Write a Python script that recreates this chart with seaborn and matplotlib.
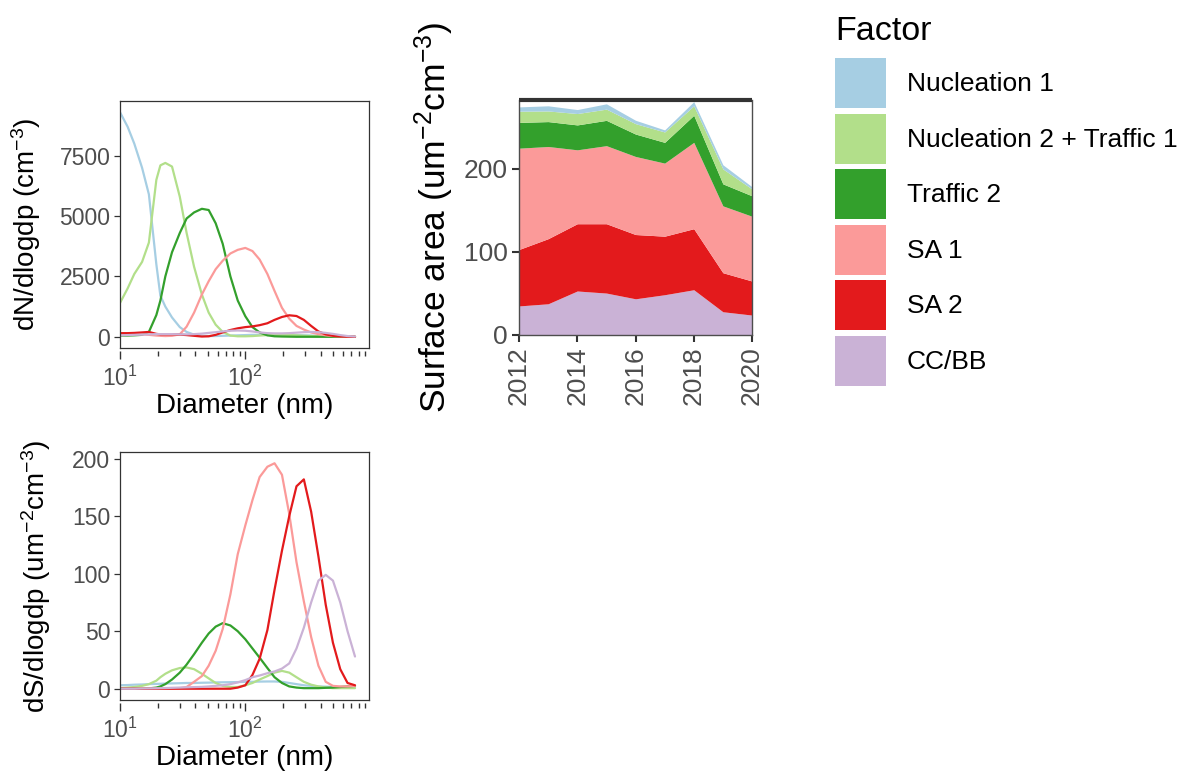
import numpy as np
import pandas as pd
import matplotlib
matplotlib.use("Agg")
import matplotlib.pyplot as plt
import seaborn as sns
from matplotlib.patches import Patch

# ---------------- estilo ----------------
sns.set_theme(style="white")
plt.rcParams['font.family'] = ['Liberation Sans', 'DejaVu Sans']
plt.rcParams['mathtext.fontset'] = 'custom'
plt.rcParams['mathtext.rm'] = 'Liberation Sans'
plt.rcParams['mathtext.it'] = 'Liberation Sans:italic'
plt.rcParams['mathtext.bf'] = 'Liberation Sans:bold'
plt.rcParams['mathtext.default'] = 'regular'

DARK = '#333333'
GREY = '#4D4D4D'

# ---------------- dados ----------------
factors = ['Nucleation 1', 'Nucleation 2 + Traffic 1', 'Traffic 2', 'SA 1', 'SA 2', 'CC/BB']
colors = {
    'Nucleation 1': '#A6CEE3',
    'Nucleation 2 + Traffic 1': '#B2DF8A',
    'Traffic 2': '#33A02C',
    'SA 1': '#FB9A99',
    'SA 2': '#E31A1C',
    'CC/BB': '#CAB2D6',
}

diameter = [10, 11.5, 13, 15, 17, 19.5, 21, 23, 26, 30, 34, 39, 45, 51, 58, 66, 76, 87,
            100, 114, 130, 150, 171, 196, 224, 256, 293, 335, 383, 438, 500, 572, 654, 750]

# dN/dlogdp (cm-3)
dn_nuc1 = [9300, 8700, 8000, 7000, 5900, 3000, 1700, 1250, 800, 400, 200, 90, 40, 30, 30, 40, 50,
           60, 70, 80, 80, 80, 80, 80, 80, 70, 60, 50, 40, 30, 20, 10, 5, 0]
dn_nuc2 = [1400, 2000, 2600, 3100, 3900, 6500, 7100, 7200, 7050, 5800, 4300, 2900, 1750, 1000, 500,
           200, 50, 20, 20, 30, 50, 70, 80, 80, 70, 60, 40, 30, 20, 10, 5, 0, 0, 0]
dn_tr2 = [50, 50, 60, 80, 200, 900, 1500, 2500, 3500, 4300, 4900, 5150, 5300, 5250, 4700, 3850,
          2500, 1500, 850, 400, 180, 60, 20, 10, 5, 0, 0, 0, 0, 0, 0, 0, 0, 0]
dn_sa1 = [100, 110, 120, 100, 80, 50, 40, 30, 40, 100, 420, 1000, 1750, 2300, 2800, 3150, 3450,
          3600, 3680, 3550, 3200, 2600, 1900, 1200, 750, 450, 300, 180, 110, 60, 30, 15, 5, 0]
dn_sa2 = [150, 150, 160, 180, 200, 120, 100, 100, 100, 90, 70, 40, 10, 20, 80, 180, 280, 350, 400,
          430, 480, 560, 700, 820, 890, 860, 700, 450, 220, 100, 40, 15, 5, 0]
dn_cc = [60, 70, 80, 90, 100, 110, 110, 110, 110, 100, 100, 110, 130, 160, 190, 220, 250, 260, 250,
         220, 180, 150, 140, 140, 150, 170, 190, 200, 190, 160, 120, 70, 30, 10]

# dS/dlogdp (um2 cm-3)
ds_nuc1 = [3, 3.2, 3.5, 3.7, 4, 4.2, 4.3, 4.5, 4.6, 4.8, 5, 5, 5.2, 5.3, 5.5, 5.6, 5.7, 5.8, 6, 6,
           6.2, 6.3, 6.3, 6, 5, 4, 3, 2.5, 2, 1.8, 1.6, 1.5, 1.5, 1.5]
ds_nuc2 = [0.5, 1, 1.5, 2.5, 4, 7, 10, 13, 16, 18, 18.5, 17, 13, 9, 5, 2.5, 1.5, 1.5, 3, 5, 8, 11,
           14, 15.5, 14, 10, 6, 3.5, 2, 1, 0.5, 0.5, 0.5, 0.5]
ds_tr2 = [0, 0, 0, 0, 0.3, 1, 2, 4, 8, 14, 21, 30, 40, 48, 54, 57, 55, 50, 43, 35, 27, 18, 10, 5,
          2, 1, 0.5, 0.5, 0.5, 0.8, 1, 1.5, 2, 2.5]
ds_sa1 = [0, 0, 0, 0, 0, 0, 0, 0, 0.2, 0.5, 1.5, 6, 11, 20, 33, 52, 82, 117, 142, 164, 184, 193,
          196, 186, 152, 110, 76, 45, 20, 6, 2.5, 2, 2, 2.5]
ds_sa2 = [0, 0, 0, 0, 0, 0, 0, 0, 0, 0, 0, 0, 0, 0, 0, 0, 0, 1, 3, 12, 26, 51, 86, 120, 150, 176,
          182, 154, 115, 73, 40, 17, 5, 3]
ds_cc = [0, 0, 0, 0.2, 0.3, 0.4, 0.5, 0.6, 0.8, 1, 1.2, 1.4, 1.6, 2, 2.5, 3, 4, 5.5, 7.5, 10, 11.5,
         13.5, 15, 17.5, 22, 35, 53, 75, 94, 99, 94, 75, 50, 28]

# Surface area por ano (um2 cm-3)
years = [2012, 2013, 2014, 2015, 2016, 2017, 2018, 2019, 2020]
sa_cc = [35, 37.6, 53, 50.5, 43.6, 48.5, 54.5, 28, 24]
sa_sa2 = [68, 78.4, 81, 83.5, 77.4, 70.5, 73.5, 47, 41]
sa_sa1 = [122, 111, 89, 94, 94, 88, 104, 80.5, 78]
sa_tr2 = [31, 30, 30, 30.5, 27, 25, 32.6, 26.5, 24.6]
sa_nuc2 = [13.5, 12.8, 13.7, 13.5, 12.5, 12.5, 11.4, 18, 8.2]
sa_nuc1 = [5.2, 6.2, 4.8, 6.4, 4.1, 2.5, 5, 5, 2.7]


def long_df(series):
    rows = []
    for name, vals in zip(factors, series):
        for d, v in zip(diameter, vals):
            rows.append({'diameter': d, 'value': v, 'factor': name})
    return pd.DataFrame(rows)


df_dn = long_df([dn_nuc1, dn_nuc2, dn_tr2, dn_sa1, dn_sa2, dn_cc])
df_ds = long_df([ds_nuc1, ds_nuc2, ds_tr2, ds_sa1, ds_sa2, ds_cc])


# ---------------- funções ----------------
def size_panel(ax, df, ylabel, yticks, pad):
    sns.lineplot(data=df, x='diameter', y='value', hue='factor', hue_order=factors,
                 palette=colors, estimator=None, legend=False, linewidth=1.6, ax=ax)
    ax.set_xscale('log')
    ax.set_xlim(10, 970)
    ax.set_yticks(yticks)
    ax.set_ylabel(ylabel, fontsize=20, color='black', labelpad=pad)
    ax.set_xlabel('')
    for s in ax.spines.values():
        s.set_color(DARK)
        s.set_linewidth(0.9)
    ax.tick_params(axis='y', left=True, length=4, width=0.9, color=DARK,
                   labelsize=16.5, labelcolor=GREY, pad=3)
    ax.tick_params(axis='x', which='both', bottom=False, labelbottom=False)

    # log ticks soltos abaixo do painel
    sec = ax.secondary_xaxis(-0.014)
    sec.spines['bottom'].set_visible(False)
    sec.set_xticks([10, 100], labels=['$10^{1}$', '$10^{2}$'])
    sec.set_xticks([k * 10 ** e for e in (1, 2) for k in range(2, 10)], minor=True)
    sec.xaxis.set_minor_formatter(plt.NullFormatter())
    sec.tick_params(which='major', bottom=True, labelbottom=True, length=6, width=1,
                    color=DARK, labelsize=16.5, labelcolor=GREY, pad=4)
    sec.tick_params(which='minor', bottom=True, length=3.5, width=1, color=DARK)
    sec.set_xlabel('Diameter (nm)', fontsize=20, color='black', labelpad=2)


# ---------------- figura ----------------
fig = plt.figure(figsize=(11.94, 7.75), dpi=100)
W, H = 1194, 775


def px_axes(x0, y0, x1, y1):
    return fig.add_axes([x0 / W, 1 - y1 / H, (x1 - x0) / W, (y1 - y0) / H])


ax_dn = px_axes(120, 101, 369, 348)
ax_ds = px_axes(120, 452, 369, 700)
ax_sa = px_axes(519, 100, 752, 335)

size_panel(ax_dn, df_dn, 'dN/dlogdp (cm$^{-3}$)', [0, 2500, 5000, 7500], 12)
size_panel(ax_ds, df_ds, 'dS/dlogdp (um$^{-2}$cm$^{-3}$)', [0, 50, 100, 150, 200], 14)

# área empilhada
stack_order = ['CC/BB', 'SA 2', 'SA 1', 'Traffic 2', 'Nucleation 2 + Traffic 1', 'Nucleation 1']
ax_sa.stackplot(years, sa_cc, sa_sa2, sa_sa1, sa_tr2, sa_nuc2, sa_nuc1,
                colors=[colors[f] for f in stack_order], linewidth=0)
ax_sa.set_xlim(2012, 2020)
ax_sa.set_ylim(0, 283)
ax_sa.set_xticks([2012, 2014, 2016, 2018, 2020])
ax_sa.set_yticks([0, 100, 200])
ax_sa.tick_params(axis='x', bottom=True, length=5, width=1.5, color=DARK, labelsize=19,
                  labelcolor=GREY, rotation=90, pad=3)
ax_sa.tick_params(axis='y', left=True, length=5, width=1.5, color=DARK, labelsize=19,
                  labelcolor=GREY, pad=3)
for s in ax_sa.spines.values():
    s.set_color(GREY)
    s.set_linewidth(1)
ax_sa.spines['top'].set_color(DARK)
ax_sa.spines['top'].set_linewidth(3)
ax_sa.spines['top'].set_capstyle('butt')
ax_sa.set_ylabel('Surface area (um$^{-2}$cm$^{-3}$)', fontsize=25.5, color='black', labelpad=6)

# legenda
fig.text(835 / W, 1 - 40 / H, 'Factor', fontsize=24.5, color='black', ha='left', va='baseline')
handles = [Patch(facecolor=colors[f], edgecolor='none') for f in factors]
fig.legend(handles, factors, loc='upper left', bbox_to_anchor=(835 / W, 1 - 58 / H),
           frameon=False, fontsize=19, labelcolor='black', handlelength=1.93, handleheight=2.54,
           labelspacing=0.21, handletextpad=0.8, borderaxespad=0, borderpad=0)

fig.savefig('out.png', dpi=100)
